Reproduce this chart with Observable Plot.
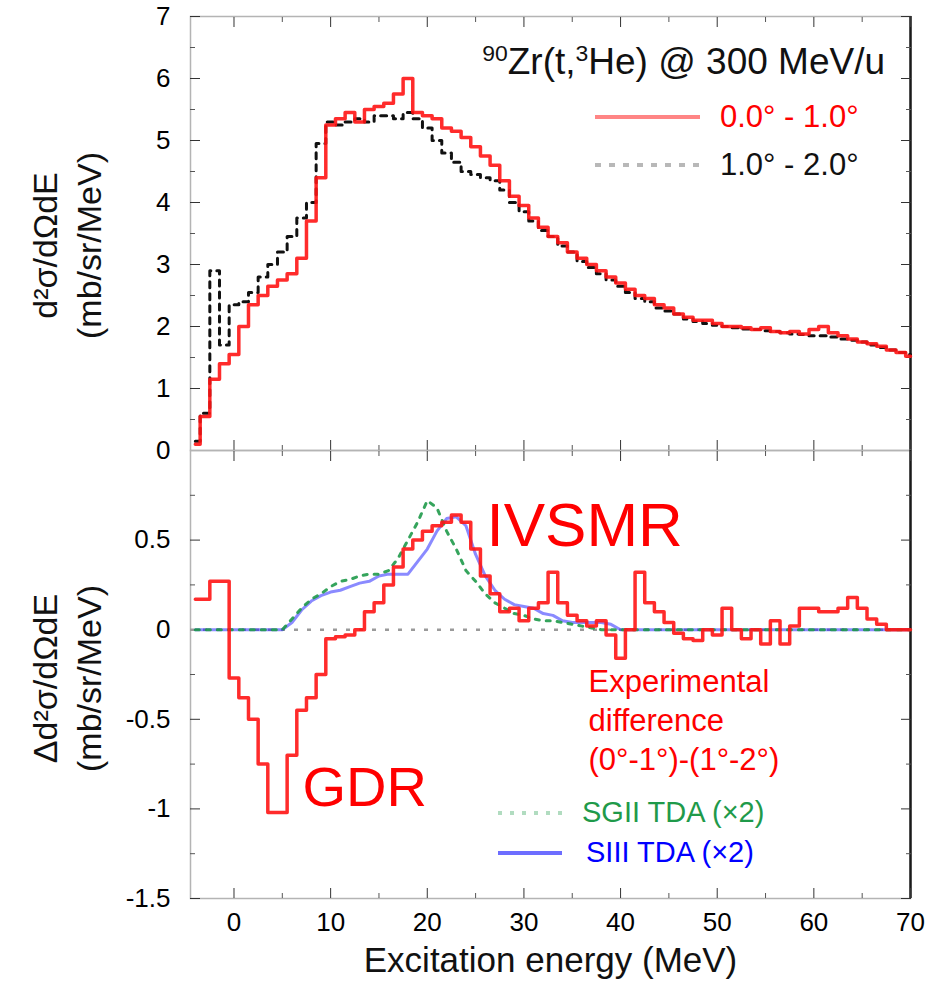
<!DOCTYPE html>
<html><head><meta charset="utf-8">
<script src="https://cdn.jsdelivr.net/npm/d3@7"></script>
<script src="https://cdn.jsdelivr.net/npm/@observablehq/plot@0.6"></script>
<style>
body{margin:0;background:#fff;}
#wrap{position:relative;width:927px;height:983px;font-family:"Liberation Sans",Arial,sans-serif;overflow:hidden;}
#wrap svg{position:absolute;left:0;}
.ov{position:absolute;white-space:nowrap;line-height:1;}
.ov sup{font-size:0.62em;vertical-align:0.55em;}
.leg{position:absolute;display:flex;align-items:center;white-space:nowrap;line-height:1;}
</style>
</head><body><div id="wrap"></div>
<script>
// ---------- data ----------
const energies = [-4,-3,-2,-1,0,1,2,3,4,5,6,7,8,9,10,11,12,13,14,15,16,17,18,19,20,21,22,23,24,25,26,27,28,29,30,31,32,33,34,35,36,37,38,39,40,41,42,43,44,45,46,47,48,49,50,51,52,53,54,55,56,57,58,59,60,61,62,63,64,65,66,67,68,69,70];
const spectrumA = [0.1,0.55,1.15,1.4,1.55,2.0,2.35,2.5,2.65,2.75,2.85,3.1,3.7,4.4,5.25,5.35,5.45,5.3,5.5,5.55,5.6,5.75,6.0,5.45,5.4,5.35,5.2,5.15,5.05,4.9,4.75,4.6,4.35,4.1,3.95,3.75,3.6,3.45,3.35,3.2,3.1,3.0,2.9,2.8,2.7,2.6,2.5,2.45,2.35,2.3,2.2,2.15,2.1,2.1,2.05,2.0,2.0,1.98,1.95,1.98,1.92,1.9,1.92,1.88,1.95,2.0,1.9,1.85,1.8,1.75,1.72,1.68,1.62,1.58,1.52];
const spectrumB = [0.15,0.6,2.9,1.7,2.35,2.4,2.55,2.8,3.0,3.2,3.45,3.75,4.0,4.95,5.3,5.25,5.3,5.35,5.3,5.4,5.4,5.35,5.45,5.35,5.2,5.0,4.8,4.65,4.5,4.45,4.4,4.35,4.2,4.0,3.85,3.7,3.55,3.45,3.3,3.2,3.05,2.95,2.85,2.75,2.65,2.55,2.45,2.4,2.3,2.25,2.2,2.12,2.08,2.05,2.02,2.0,1.98,1.96,1.95,1.93,1.92,1.9,1.88,1.87,1.85,1.85,1.83,1.8,1.78,1.75,1.7,1.66,1.62,1.58,1.55];
const difference = [0.17,0.17,0.27,0.27,-0.27,-0.38,-0.5,-0.75,-1.02,-1.02,-0.7,-0.45,-0.38,-0.25,-0.05,-0.04,-0.03,0.0,0.1,0.15,0.25,0.35,0.45,0.5,0.55,0.58,0.6,0.64,0.6,0.45,0.3,0.2,0.1,0.12,0.05,0.12,0.15,0.32,0.15,0.08,0.05,0.02,0.05,-0.03,-0.16,0.0,0.32,0.15,0.1,0.04,-0.02,-0.05,-0.06,0.0,-0.03,0.12,0.0,-0.05,0.0,-0.08,0.05,-0.08,0.02,0.12,0.12,0.1,0.1,0.12,0.18,0.12,0.06,0.03,0.0,0.0,0.0];
const calcGreen = [0,0,0,0,0,0,0,0,0,0,0.06,0.12,0.17,0.2,0.24,0.27,0.28,0.3,0.31,0.31,0.33,0.4,0.5,0.6,0.72,0.68,0.55,0.45,0.33,0.27,0.2,0.15,0.12,0.09,0.08,0.06,0.05,0.05,0.04,0.03,0.02,0.01,0,0,0,0,0,0,0,0,0,0,0,0,0,0,0,0,0,0,0,0,0,0,0,0,0,0,0,0,0,0,0,0,0];
const calcBlue = [0,0,0,0,0,0,0,0,0,0,0.04,0.11,0.16,0.19,0.21,0.22,0.24,0.26,0.27,0.3,0.31,0.31,0.31,0.38,0.45,0.55,0.62,0.63,0.58,0.42,0.3,0.22,0.17,0.14,0.13,0.12,0.09,0.08,0.05,0.04,0.04,0.04,0.04,0.03,0,0,0,0,0,0,0,0,0,0,0,0,0,0,0,0,0,0,0,0,0,0,0,0,0,0,0,0,0,0,0];

const xTicks = [0,10,20,30,40,50,60,70];
const xMinor = [-5,5,15,25,35,45,55,65];
const yTopTicks = [0,1,2,3,4,5,6,7];
const yTopMinor = [0.5,1.5,2.5,3.5,4.5,5.5,6.5];
const yBotTicks = [-1.5,-1,-0.5,0,0.5];
const yBotMinor = [-1.25,-0.75,-0.25,0.25,0.75];

const titleHTML = "<sup>90</sup>Zr(t,<sup>3</sup>He) @ 300 MeV/u";
const legendTop = ["0.0° - 1.0°", "1.0° - 2.0°"];
const legendBottom = ["SGII TDA (×2)", "SIII TDA (×2)"];
const diffNote = "Experimental\ndifference\n(0°-1°)-(1°-2°)";
const yLabelTop = "d²σ/dΩdE\n(mb/sr/MeV)";
const yLabelBottom = "Δd²σ/dΩdE\n(mb/sr/MeV)";
const xLabel = "Excitation energy (MeV)";

// ---------- tables ----------
const rows = energies.map((e, i) => ({E: e, a: spectrumA[i], b: spectrumB[i], d: difference[i], g: calcGreen[i], bl: calcBlue[i]}));

const FONT = "Liberation Sans, Arial, sans-serif";
const xDomain = [-4.5, 70];
const RED = "#ff1414", GREEN = "#1f9a4a", BLUE = "#2a2aff";
const blank = () => "";

function frameMarks(yTicks, yMinor, showXLabels) {
  return [
    Plot.frame({stroke: "#b4b4b4", strokeWidth: 1.5}),
    Plot.ruleX([xDomain[1]], {stroke: "#1a1a1a", strokeWidth: 2.5}),
    Plot.axisY({ticks: yTicks, anchor: "left", tickSize: -10, tickPadding: 30, tickFormat: d => String(d), fontSize: 26, stroke: "#333"}),
    Plot.axisY({ticks: yMinor, anchor: "left", tickSize: -5, tickFormat: blank, stroke: "#555"}),
    Plot.axisY({ticks: yTicks, anchor: "right", tickSize: -10, tickFormat: blank, stroke: "#333"}),
    Plot.axisY({ticks: yMinor, anchor: "right", tickSize: -5, tickFormat: blank, stroke: "#555"}),
    Plot.axisX({ticks: xTicks, anchor: "top", tickSize: -10, tickFormat: blank, stroke: "#333"}),
    Plot.axisX({ticks: xMinor.filter(v => v >= xDomain[0]), anchor: "top", tickSize: -5, tickFormat: blank, stroke: "#555"}),
    Plot.axisX({ticks: xTicks, anchor: "bottom", tickSize: -10, tickPadding: 24, tickFormat: showXLabels ? (d => String(d)) : blank, fontSize: 26, stroke: "#333"}),
    Plot.axisX({ticks: xMinor.filter(v => v >= xDomain[0]), anchor: "bottom", tickSize: -5, tickFormat: blank, stroke: "#555"})
  ];
}

const topPlot = Plot.plot({
  width: 927, height: 450,
  marginLeft: 190, marginRight: 17, marginTop: 16, marginBottom: 0,
  style: {fontFamily: FONT, fontSize: "26px", color: "#000", background: "transparent", overflow: "visible"},
  x: {domain: xDomain, label: null},
  y: {domain: [0, 7], label: null},
  marks: [
    ...frameMarks(yTopTicks, yTopMinor, false),
    Plot.line(rows, {x: "E", y: "b", curve: "step", stroke: "#111", strokeWidth: 3, strokeDasharray: "6,6"}),
    Plot.line(rows, {x: "E", y: "a", curve: "step", stroke: RED, strokeWidth: 3.5, strokeOpacity: 0.9}),
    Plot.text([yLabelTop], {frameAnchor: "left", dx: -126, dy: 12, rotate: -90, fontSize: 34, lineHeight: 1.3, fill: "#111", textAnchor: "middle", lineAnchor: "middle"})
  ]
});

const botPlot = Plot.plot({
  width: 927, height: 533,
  marginLeft: 190, marginRight: 17, marginTop: 0, marginBottom: 85,
  style: {fontFamily: FONT, fontSize: "26px", color: "#000", background: "transparent", overflow: "visible"},
  x: {domain: xDomain, label: null},
  y: {domain: [-1.5, 1], label: null},
  marks: [
    ...frameMarks(yBotTicks, yBotMinor, true),
    Plot.ruleY([0], {stroke: "#9a9a9a", strokeWidth: 2.5, strokeDasharray: "4,9"}),
    Plot.line(rows, {x: "E", y: "bl", curve: "linear", stroke: BLUE, strokeWidth: 3, strokeOpacity: 0.55}),
    Plot.line(rows, {x: "E", y: "g", curve: "linear", stroke: GREEN, strokeWidth: 3, strokeDasharray: "4,7", strokeOpacity: 0.9}),
    Plot.line(rows, {x: "E", y: "d", curve: "step", stroke: RED, strokeWidth: 3.5, strokeOpacity: 0.9}),
    Plot.text(["IVSMR"], {frameAnchor: "top-left", dx: 296, dy: 95, lineAnchor: "bottom", textAnchor: "start", fontSize: 62, fill: "#ff0000"}),
    Plot.text(["GDR"], {frameAnchor: "top-left", dx: 112, dy: 355, lineAnchor: "bottom", textAnchor: "start", fontSize: 56, fill: "#ff0000"}),
    Plot.text([diffNote], {frameAnchor: "top-left", dx: 398, dy: 268, lineAnchor: "middle", textAnchor: "start", fontSize: 31, lineHeight: 1.27, fill: "#ff0000"}),
    Plot.text([yLabelBottom], {frameAnchor: "left", dx: -126, dy: 4, rotate: -90, fontSize: 34, lineHeight: 1.3, fill: "#111", textAnchor: "middle", lineAnchor: "middle"}),
    Plot.text([xLabel], {frameAnchor: "bottom", dy: 62, lineAnchor: "middle", fontSize: 35, fill: "#111"})
  ]
});

const wrap = document.getElementById("wrap");
topPlot.style.top = "0px";
botPlot.style.top = "450px";
wrap.appendChild(topPlot);
wrap.appendChild(botPlot);

// title
const t = document.createElement("div");
t.className = "ov";
t.style.right = "42px"; t.style.top = "42px"; t.style.fontSize = "37px"; t.style.color = "#111";
t.innerHTML = titleHTML;
wrap.appendChild(t);

// legends
function legendItem(left, cy, lineW, color, dash, opacity, label, textColor, fontSize, gap) {
  const d = document.createElement("div");
  d.className = "leg";
  d.style.left = left + "px";
  d.style.top = (cy - fontSize * 0.6) + "px";
  d.style.height = (fontSize * 1.2) + "px";
  d.style.fontSize = fontSize + "px";
  d.style.color = textColor;
  d.innerHTML = `<svg width="${lineW}" height="10" style="position:static;margin-right:${gap}px"><line x1="0" y1="5" x2="${lineW}" y2="5" stroke="${color}" stroke-width="4" ${dash ? `stroke-dasharray="${dash}"` : ""} stroke-opacity="${opacity}"/></svg><span>${label}</span>`;
  wrap.appendChild(d);
}
legendItem(595, 117, 105, "#ff7070", null, 0.85, legendTop[0], "#ff0000", 31, 20);
legendItem(595, 165, 105, "#888", "6,8", 0.6, legendTop[1], "#111", 31, 20);
legendItem(498, 813, 64, GREEN, "4,8", 0.35, legendBottom[0], GREEN, 29, 20);
legendItem(498, 853, 64, "#4848ff", null, 0.8, legendBottom[1], "#0000ff", 29, 24);
</script></body></html>
